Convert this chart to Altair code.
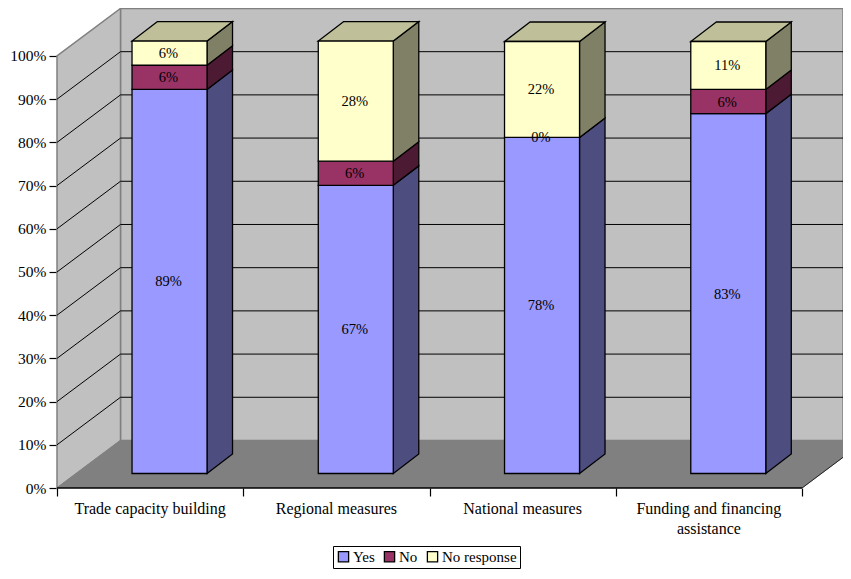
import altair as alt
import pandas as pd

categories = ["Trade capacity building", "Regional measures", "National measures", "Funding and financing assistance"]
label_lines = [["Trade capacity building"], ["Regional measures"], ["National measures"], ["Funding and financing", "assistance"]]
series = ["Yes", "No", "No response"]
yes = [88.9, 66.7, 77.8, 83.3]
no = [5.6, 5.6, 0.0, 5.6]
no_response = [5.6, 27.8, 22.2, 11.1]
value_rows = [yes, no, no_response]
front_colors = ["#9999FF", "#993366", "#FFFFCC"]
side_colors = ["#4D4D80", "#4D1A33", "#808066"]
top_color = "#BFBF99"
percent_ticks = [0, 10, 20, 30, 40, 50, 60, 70, 80, 90, 100]

FONT = "Liberation Serif"
UNIT_X = 186.25
WIDTH, HEIGHT = 786, 480
XMAX = WIDTH / UNIT_X
YMAX = 111.11
WALL_DX, WALL_DY = 63.5 / UNIT_X, 11.0
BAR_W = 75 / UNIT_X
SHIFT_X, SHIFT_Y = 19.4 / UNIT_X, 14.5 / 4.32
BAR_DX, BAR_DY = 25.5 / UNIT_X, 4.51

xs = alt.Scale(domain=[0, XMAX], nice=False, zero=False)
ys = alt.Scale(domain=[0, YMAX], nice=False, zero=False)
x_axis = alt.Axis(values=[0, 1, 2, 3, 4], labels=False, domain=False, grid=False,
                  tickColor="black", tickSize=8, tickWidth=1.2, title=None)
y_axis = alt.Axis(values=percent_ticks, labelExpr="datum.value + '%'", domain=False, grid=False,
                  tickColor="black", tickSize=8, tickWidth=1.2, title=None,
                  labelFont=FONT, labelFontSize=15.5, labelColor="black", labelPadding=3)
X = lambda f: alt.X(f, type="quantitative", scale=xs, axis=x_axis)
Y = lambda f: alt.Y(f, type="quantitative", scale=ys, axis=y_axis, stack=None)

fronts, sides, tops, labels = [], [], [], []
for c, cat in enumerate(categories):
    base = SHIFT_Y
    left = c + 0.5 + SHIFT_X - BAR_W / 2
    right = left + BAR_W
    for s, name in enumerate(series):
        v = value_rows[s][c]
        lo, hi = base, base + v
        fronts.append(dict(series=name, x=left, x2=right, y=lo, y2=hi))
        labels.append(dict(x=(left + right) / 2, y=(lo + hi) / 2, t=f"{v:.0f}%"))
        for k in (0, 1):
            sides.append(dict(key=f"{c}-{s}", fill=side_colors[s], x=right + k * BAR_DX,
                              y=lo + k * BAR_DY, y2=hi + k * BAR_DY))
        base = hi
    for k in (0, 1):
        tops.append(dict(key=str(c), x=left + k * BAR_DX, x2=right + k * BAR_DX, y=base + k * BAR_DY))

fronts, sides, tops, labels = map(pd.DataFrame, (fronts, sides, tops, labels))

grid_vals = [t for t in percent_ticks if 0 < t < 100]
back_grid = pd.DataFrame([dict(x=WALL_DX, x2=XMAX, y=t + WALL_DY) for t in grid_vals])
left_grid = pd.DataFrame([dict(key=t, x=k * WALL_DX, y=t + k * WALL_DY) for t in grid_vals for k in (0, 1)])

back_wall = alt.Chart(pd.DataFrame([dict(x=WALL_DX, x2=XMAX, y=WALL_DY, y2=100 + WALL_DY)])).mark_rect(
    fill="#C0C0C0", stroke="#808080", strokeWidth=1.5
).encode(x=X("x"), x2="x2:Q", y=Y("y"), y2="y2:Q")

left_wall = alt.Chart(pd.DataFrame([dict(x=k * WALL_DX, y=k * WALL_DY, y2=100 + k * WALL_DY) for k in (0, 1)])).mark_area(
    fill="#C0C0C0", stroke="#808080", strokeWidth=1.5
).encode(x=X("x"), y=Y("y"), y2="y2:Q")

floor = alt.Chart(pd.DataFrame([dict(x=k * WALL_DX, x2=4 + k * WALL_DX, y=k * WALL_DY) for k in (0, 1)])).mark_area(
    fill="#808080", stroke="#808080", orient="horizontal", clip=True
).encode(x=X("x"), x2="x2:Q", y=Y("y"))

floor_edge = alt.Chart(pd.DataFrame([dict(x=4 + k * WALL_DX, y=k * WALL_DY) for k in (0, 1)])).mark_line(
    color="#222222", strokeWidth=1, clip=True
).encode(x=X("x"), y=Y("y"))

axis_line = alt.Chart(pd.DataFrame([dict(x=0, x2=4, y=0)])).mark_rule(color="black", strokeWidth=1.3).encode(
    x=X("x"), x2="x2:Q", y=Y("y")
)

back_lines = alt.Chart(back_grid).mark_rule(color="black", strokeWidth=1).encode(x=X("x"), x2="x2:Q", y=Y("y"))
left_lines = alt.Chart(left_grid).mark_line(color="black", strokeWidth=1).encode(x=X("x"), y=Y("y"), detail="key:N")

side_faces = alt.Chart(sides).mark_area(stroke="black", strokeWidth=1.3).encode(
    x=X("x"), y=Y("y"), y2="y2:Q", fill=alt.Fill("fill:N", scale=None), detail="key:N"
)
top_faces = alt.Chart(tops).mark_area(fill=top_color, stroke="black", strokeWidth=1.3, orient="horizontal").encode(
    x=X("x"), x2="x2:Q", y=Y("y"), detail="key:N"
)
front_faces = alt.Chart(fronts).mark_rect(stroke="black", strokeWidth=1.3).encode(
    x=X("x"), x2="x2:Q", y=Y("y"), y2="y2:Q",
    color=alt.Color("series:N", sort=series,
                    scale=alt.Scale(domain=series, range=front_colors),
                    legend=alt.Legend(orient="none", legendX=276, legendY=538, direction="horizontal",
                                      title=None, symbolType="square", symbolSize=105,
                                      symbolStrokeColor="black", symbolStrokeWidth=1.3, symbolOpacity=1,
                                      labelFont=FONT, labelFontSize=15, labelColor="black", labelLimit=200,
                                      columnPadding=6, labelOffset=2, columns=3,
                                      strokeColor="black", padding=3, fillColor="white")),
)

value_text = alt.Chart(labels).mark_text(font=FONT, fontSize=14.5, color="black", dx=-1, dy=1).encode(
    x=X("x"), y=Y("y"), text="t:N"
)

cat_rows = [dict(x=c + 0.5, y=-4.86 - 4.63 * i, t=line) for c, lines in enumerate(label_lines) for i, line in enumerate(lines)]
cat_text = alt.Chart(pd.DataFrame(cat_rows)).mark_text(font=FONT, fontSize=16, color="black").encode(
    x=X("x"), y=Y("y"), text="t:N"
)

chart = alt.layer(
    back_wall, left_wall, floor, floor_edge, axis_line, back_lines, left_lines,
    side_faces, top_faces, front_faces, value_text, cat_text,
).properties(
    width=WIDTH, height=HEIGHT,
    autosize=alt.AutoSizeParams(type="none"),
    padding={"left": 49, "top": 0, "right": 0, "bottom": 83},
    background="white",
).configure_view(stroke=None)

chart.save("out.html", embed_options={"renderer": "svg", "actions": False})
